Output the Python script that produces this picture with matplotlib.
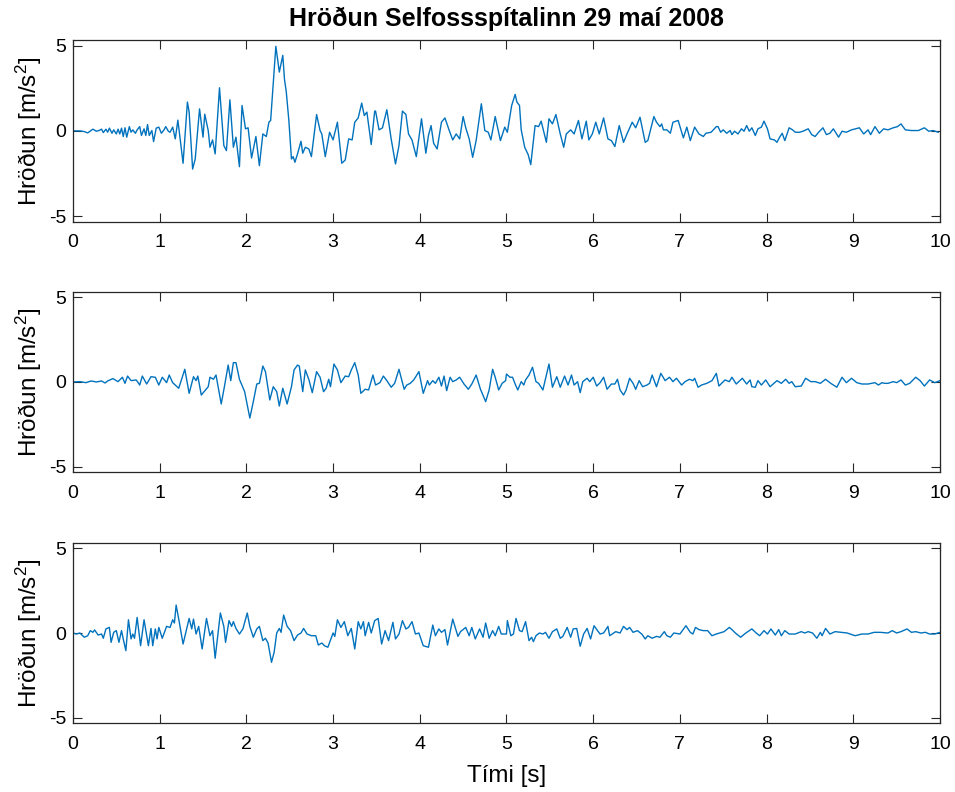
import matplotlib
matplotlib.use("Agg")
import matplotlib.pyplot as plt

# Acceleration records, Selfoss hospital, 29 May 2008 (time in s, acceleration in m/s^2)
t_top = [0.00, 0.08, 0.13, 0.17, 0.23, 0.27, 0.30, 0.33, 0.35, 0.38, 0.40, 0.42, 0.45, 0.47, 0.50,
         0.52, 0.54, 0.56, 0.58, 0.60, 0.62, 0.65, 0.67, 0.69, 0.72, 0.74, 0.77, 0.79, 0.82, 0.84,
         0.86, 0.88, 0.91, 0.93, 0.96, 0.99, 1.02, 1.05, 1.07, 1.10, 1.12, 1.15, 1.18, 1.21, 1.27,
         1.32, 1.34, 1.38, 1.41, 1.46, 1.50, 1.52, 1.56, 1.58, 1.61, 1.64, 1.69, 1.74, 1.77, 1.81,
         1.85, 1.88, 1.92, 1.95, 1.99, 2.02, 2.06, 2.11, 2.15, 2.19, 2.23, 2.26, 2.28, 2.34, 2.38,
         2.42, 2.44, 2.46, 2.49, 2.52, 2.54, 2.56, 2.59, 2.63, 2.65, 2.68, 2.72, 2.75, 2.81, 2.85,
         2.87, 2.91, 2.96, 3.00, 3.05, 3.10, 3.14, 3.18, 3.22, 3.25, 3.29, 3.33, 3.36, 3.39, 3.44,
         3.48, 3.49, 3.53, 3.57, 3.62, 3.67, 3.72, 3.76, 3.80, 3.84, 3.87, 3.91, 3.96, 4.02, 4.07,
         4.10, 4.13, 4.16, 4.20, 4.25, 4.29, 4.34, 4.38, 4.42, 4.46, 4.50, 4.53, 4.57, 4.61, 4.65,
         4.71, 4.75, 4.79, 4.82, 4.87, 4.90, 4.93, 4.98, 5.01, 5.06, 5.10, 5.12, 5.15, 5.17, 5.21,
         5.25, 5.28, 5.33, 5.37, 5.40, 5.46, 5.49, 5.53, 5.57, 5.62, 5.66, 5.69, 5.74, 5.78, 5.83,
         5.87, 5.92, 5.95, 5.99, 6.03, 6.07, 6.12, 6.17, 6.21, 6.25, 6.30, 6.35, 6.39, 6.45, 6.49,
         6.54, 6.60, 6.63, 6.70, 6.73, 6.77, 6.79, 6.81, 6.85, 6.89, 6.92, 6.98, 7.04, 7.08, 7.12,
         7.17, 7.22, 7.27, 7.30, 7.36, 7.42, 7.44, 7.47, 7.50, 7.54, 7.58, 7.60, 7.63, 7.67, 7.71,
         7.74, 7.77, 7.80, 7.83, 7.87, 7.90, 7.94, 7.97, 8.01, 8.04, 8.09, 8.12, 8.15, 8.18, 8.21,
         8.26, 8.30, 8.33, 8.38, 8.42, 8.48, 8.52, 8.56, 8.60, 8.65, 8.69, 8.73, 8.77, 8.83, 8.87,
         8.92, 8.98, 9.07, 9.12, 9.17, 9.20, 9.25, 9.30, 9.35, 9.40, 9.46, 9.51, 9.55, 9.60, 9.67,
         9.75, 9.82, 9.87, 9.92, 9.98]
a_top = [0.00, 0.00, -0.04, -0.12, 0.10, -0.02, 0.02, 0.10, -0.10, 0.10, -0.08, 0.16, -0.14, 0.06, -0.18,
         0.10, -0.18, 0.16, -0.33, 0.18, -0.37, 0.25, -0.08, 0.06, -0.14, 0.06, 0.25, -0.27, 0.12, -0.27,
         0.37, -0.27, 0.02, -0.63, 0.16, 0.22, -0.14, 0.06, 0.25, -0.02, -0.08, 0.22, -0.47, 0.63, -1.90,
         1.69, 1.10, -2.24, -1.65, 1.29, -0.37, 0.98, 0.02, -0.96, -0.53, -1.35, 2.53, -0.86, -1.16, 1.82,
         -0.96, -0.37, -2.10, 1.49, 0.12, 0.18, -1.59, -0.33, -2.04, -0.18, -0.33, 0.51, 0.61, 4.96, 3.45,
         4.43, 3.00, 2.30, 0.61, -1.65, -1.51, -1.84, -1.35, -0.61, -1.31, -0.96, -1.06, -1.51, 0.96, 0.02,
         -0.18, -1.51, -0.08, -0.53, 0.51, -1.90, -1.71, -0.47, -0.53, 0.51, 0.76, 1.63, 0.90, 1.10, -0.80,
         1.16, 1.16, 0.06, 0.18, 1.24, -0.47, -1.94, -0.86, 1.16, 0.96, -0.18, -0.53, -1.51, 0.71, -1.31,
         -0.27, 0.31, -0.73, -1.06, 0.51, 0.76, 0.02, -0.53, -0.18, -0.47, 0.84, 0.18, -0.47, -1.55, -0.57,
         1.59, 0.02, -0.08, -0.53, 0.84, 0.12, -0.57, 0.22, -0.08, 1.49, 2.14, 1.69, 1.49, 0.06, -0.96,
         -1.39, -1.98, 0.31, 0.25, 0.57, -0.67, 0.71, 0.41, 0.96, -0.18, -0.96, -0.18, 0.06, -0.18, 0.61,
         -0.47, 0.57, -0.53, -0.18, 0.51, -0.18, 0.76, -0.47, -0.57, -0.92, 0.31, -0.67, -0.18, 0.51, 0.18,
         0.80, -0.67, -0.57, 0.84, 0.51, 0.25, 0.41, 0.06, 0.06, -0.14, 0.51, 0.61, -0.41, 0.22, -0.57,
         0.22, -0.18, -0.33, -0.14, -0.08, 0.25, 0.25, -0.08, 0.06, -0.14, 0.02, -0.22, -0.02, -0.18, 0.12,
         -0.02, 0.31, -0.02, 0.18, -0.27, 0.12, 0.22, 0.57, 0.12, -0.47, -0.53, -0.67, -0.37, -0.14, -0.57,
         0.18, 0.06, -0.08, -0.08, -0.02, 0.12, -0.22, -0.33, -0.08, 0.18, -0.22, -0.14, 0.12, -0.37, -0.02,
         -0.08, 0.06, 0.18, -0.18, 0.06, -0.22, 0.25, -0.14, 0.12, 0.06, 0.18, 0.25, 0.41, 0.06, 0.02,
         0.02, 0.18, -0.02, 0.02, -0.08]

t_mid = [0.00, 0.08, 0.15, 0.21, 0.27, 0.33, 0.37, 0.40, 0.46, 0.52, 0.57, 0.60, 0.63, 0.67, 0.73,
         0.77, 0.80, 0.85, 0.90, 0.95, 0.99, 1.03, 1.08, 1.11, 1.15, 1.22, 1.29, 1.34, 1.39, 1.42,
         1.44, 1.48, 1.53, 1.56, 1.58, 1.62, 1.65, 1.71, 1.75, 1.79, 1.82, 1.85, 1.88, 1.92, 1.98,
         2.04, 2.08, 2.12, 2.15, 2.19, 2.22, 2.27, 2.31, 2.35, 2.38, 2.42, 2.47, 2.52, 2.55, 2.59,
         2.61, 2.65, 2.68, 2.72, 2.76, 2.81, 2.85, 2.89, 2.92, 2.95, 2.97, 3.01, 3.05, 3.09, 3.14,
         3.18, 3.21, 3.25, 3.29, 3.32, 3.37, 3.41, 3.46, 3.49, 3.54, 3.58, 3.62, 3.67, 3.71, 3.76,
         3.82, 3.85, 3.89, 3.93, 3.99, 4.04, 4.09, 4.11, 4.15, 4.18, 4.22, 4.25, 4.28, 4.31, 4.35,
         4.38, 4.42, 4.46, 4.51, 4.56, 4.60, 4.65, 4.70, 4.76, 4.80, 4.84, 4.87, 4.91, 4.95, 4.99,
         5.00, 5.04, 5.07, 5.10, 5.13, 5.17, 5.20, 5.22, 5.26, 5.30, 5.34, 5.37, 5.42, 5.49, 5.53,
         5.58, 5.62, 5.67, 5.71, 5.75, 5.78, 5.82, 5.85, 5.88, 5.93, 5.96, 6.00, 6.04, 6.08, 6.12,
         6.16, 6.21, 6.25, 6.28, 6.31, 6.35, 6.38, 6.42, 6.46, 6.49, 6.53, 6.57, 6.62, 6.65, 6.68,
         6.73, 6.78, 6.83, 6.88, 6.92, 6.96, 7.02, 7.06, 7.11, 7.15, 7.17, 7.21, 7.25, 7.31, 7.37,
         7.42, 7.45, 7.52, 7.57, 7.60, 7.65, 7.72, 7.77, 7.81, 7.83, 7.87, 7.90, 7.94, 7.99, 8.04,
         8.12, 8.17, 8.22, 8.26, 8.29, 8.33, 8.40, 8.45, 8.51, 8.56, 8.62, 8.68, 8.74, 8.81, 8.87,
         8.92, 8.98, 9.04, 9.10, 9.17, 9.21, 9.25, 9.29, 9.33, 9.36, 9.40, 9.46, 9.50, 9.55, 9.60,
         9.65, 9.72, 9.77, 9.82, 9.88, 9.94, 10.00]
a_mid = [0.00, 0.02, -0.04, 0.06, 0.00, 0.06, -0.06, 0.06, 0.20, 0.02, 0.28, -0.08, 0.35, 0.08, 0.12,
         -0.18, 0.35, -0.12, 0.31, 0.28, -0.18, 0.28, -0.04, 0.41, -0.04, -0.37, 0.75, -0.67, 0.31, 0.08,
         0.35, -0.77, -0.47, -0.28, 0.28, 0.16, 0.41, -1.30, -0.18, 1.00, 0.08, 1.14, 1.14, 0.16, -0.57,
         -2.13, -1.16, -0.12, -0.08, 0.94, 0.61, -1.06, -0.28, -0.57, -1.42, -0.37, -1.30, -0.28, 0.71, 1.00,
         0.94, -0.57, 0.71, 0.16, -0.63, 0.61, 0.28, -0.57, -0.37, 0.16, -0.28, 1.06, 0.71, -0.04, 0.35,
         0.31, 0.71, 1.14, 0.41, -0.67, -0.43, -0.47, 0.41, -0.18, -0.04, 0.35, 0.08, -0.31, -0.08, 0.75,
         -0.43, -0.18, -0.08, 0.12, 0.61, -0.67, 0.08, -0.18, 0.08, -0.08, 0.28, -0.24, 0.35, -0.51, 0.28,
         0.02, 0.12, 0.28, -0.12, -0.43, -0.12, 0.41, -0.43, -1.16, -0.47, 0.75, 0.28, -0.47, -0.08, 0.08,
         0.47, 0.28, 0.28, -0.12, -0.47, 0.02, -0.18, 0.12, 0.41, 0.87, 0.02, -0.08, -0.47, 1.06, -0.31,
         0.31, -0.31, 0.35, -0.18, 0.41, -0.18, 0.02, -0.63, 0.02, 0.22, 0.02, 0.28, -0.24, -0.04, 0.28,
         -0.43, -0.12, -0.12, 0.16, -0.47, -0.77, -0.47, 0.22, -0.08, -0.43, 0.08, -0.28, -0.18, -0.08, 0.41,
         -0.28, 0.51, 0.08, 0.28, 0.02, 0.22, -0.18, 0.02, 0.16, 0.08, 0.22, -0.31, -0.18, -0.08, 0.08,
         0.51, -0.24, 0.12, 0.02, 0.28, -0.12, 0.22, -0.12, 0.12, -0.28, -0.31, 0.08, -0.18, 0.12, -0.28,
         0.08, -0.08, 0.16, -0.08, 0.02, -0.28, -0.24, 0.22, 0.02, 0.02, -0.08, 0.16, -0.08, -0.31, 0.28,
         -0.04, 0.22, -0.04, -0.12, -0.12, -0.08, -0.04, -0.18, -0.04, -0.08, -0.08, 0.02, -0.04, 0.12, -0.18,
         -0.08, 0.28, 0.08, -0.24, 0.12, -0.04, 0.08]

t_bot = [0.00, 0.04, 0.08, 0.13, 0.17, 0.20, 0.23, 0.25, 0.29, 0.33, 0.35, 0.38, 0.42, 0.44, 0.47,
         0.50, 0.53, 0.56, 0.58, 0.61, 0.64, 0.67, 0.69, 0.71, 0.74, 0.78, 0.82, 0.87, 0.90, 0.92,
         0.95, 0.97, 0.99, 1.03, 1.08, 1.12, 1.15, 1.17, 1.19, 1.22, 1.27, 1.30, 1.34, 1.37, 1.39,
         1.42, 1.45, 1.49, 1.54, 1.58, 1.61, 1.64, 1.70, 1.74, 1.76, 1.80, 1.83, 1.85, 1.88, 1.92,
         1.96, 2.01, 2.04, 2.08, 2.12, 2.15, 2.19, 2.22, 2.25, 2.29, 2.32, 2.35, 2.38, 2.40, 2.43,
         2.47, 2.51, 2.55, 2.59, 2.63, 2.66, 2.70, 2.75, 2.80, 2.83, 2.87, 2.90, 2.94, 3.00, 3.02,
         3.05, 3.09, 3.13, 3.17, 3.21, 3.25, 3.29, 3.32, 3.35, 3.37, 3.41, 3.44, 3.48, 3.52, 3.56,
         3.60, 3.64, 3.69, 3.72, 3.76, 3.80, 3.84, 3.87, 3.91, 3.95, 3.99, 4.04, 4.10, 4.15, 4.18,
         4.22, 4.25, 4.29, 4.32, 4.38, 4.44, 4.47, 4.53, 4.57, 4.60, 4.64, 4.69, 4.73, 4.76, 4.80,
         4.84, 4.87, 4.91, 4.94, 5.00, 5.01, 5.05, 5.08, 5.11, 5.15, 5.18, 5.22, 5.26, 5.29, 5.31,
         5.34, 5.38, 5.42, 5.45, 5.49, 5.53, 5.58, 5.62, 5.65, 5.70, 5.74, 5.77, 5.81, 5.85, 5.89,
         5.93, 5.97, 6.01, 6.05, 6.08, 6.12, 6.17, 6.19, 6.26, 6.31, 6.35, 6.39, 6.42, 6.46, 6.51,
         6.56, 6.60, 6.63, 6.68, 6.73, 6.77, 6.82, 6.85, 6.89, 6.93, 7.00, 7.07, 7.12, 7.15, 7.18,
         7.22, 7.27, 7.32, 7.37, 7.42, 7.51, 7.57, 7.60, 7.64, 7.70, 7.76, 7.83, 7.88, 7.92, 7.97,
         8.01, 8.05, 8.10, 8.14, 8.17, 8.21, 8.26, 8.33, 8.40, 8.44, 8.48, 8.53, 8.58, 8.62, 8.64,
         8.68, 8.73, 8.79, 8.86, 8.93, 9.02, 9.10, 9.17, 9.24, 9.31, 9.40, 9.45, 9.50, 9.55, 9.62,
         9.67, 9.72, 9.78, 9.83, 9.88, 9.94, 10.00]
a_bot = [0.00, -0.06, 0.00, -0.25, -0.16, 0.14, 0.04, 0.18, -0.12, -0.06, -0.31, 0.24, 0.33, -0.55, 0.04,
         0.14, -0.55, 0.14, -0.35, -1.04, 0.78, -0.35, -0.06, -0.31, 0.92, -0.75, 0.78, -0.75, 0.27, -0.75,
         0.24, -0.35, 0.33, -0.31, 0.39, 0.33, 0.78, 0.59, 1.65, 0.82, -0.65, 0.00, 0.86, 0.24, 0.82,
         -0.06, 0.39, -0.94, 0.86, -0.16, 0.14, -1.49, 1.18, 0.39, -0.55, 0.73, 0.39, 0.67, 0.27, -0.06,
         0.24, 1.18, 0.39, -0.25, 0.24, 0.39, -0.45, -0.31, -0.59, -1.73, -1.14, 0.00, 0.27, 0.04, 1.06,
         0.39, 0.14, -0.45, -0.12, 0.00, 0.27, -0.06, -0.16, -0.16, -0.71, -0.59, -0.75, -0.84, 0.00, -0.20,
         0.78, 0.33, 0.67, -0.16, 0.27, -0.94, 0.67, 0.24, 0.67, -0.16, 0.63, 0.00, 0.73, 0.86, -0.65,
         0.14, -0.45, 0.63, -0.35, -0.06, 0.73, 0.24, 0.33, 0.67, -0.06, 0.00, -0.75, -0.84, 0.47, -0.16,
         0.24, 0.04, 0.20, -0.71, 0.82, -0.20, 0.08, 0.33, -0.16, 0.33, -0.35, 0.24, -0.25, 0.59, -0.31,
         0.14, -0.16, 0.39, -0.06, -0.06, 0.73, -0.16, -0.06, 0.86, 0.14, 0.08, 0.67, -0.45, -0.25, -0.51,
         -0.16, 0.00, -0.06, 0.04, -0.31, 0.08, 0.24, -0.31, -0.20, 0.33, -0.25, 0.24, 0.27, -0.78, -0.06,
         0.27, -0.35, 0.43, 0.14, -0.06, 0.00, 0.39, -0.16, 0.08, 0.00, 0.39, 0.20, 0.33, 0.04, 0.14,
         -0.06, -0.35, -0.16, -0.31, -0.20, -0.25, 0.08, -0.16, -0.25, 0.00, -0.06, 0.43, 0.04, -0.06, 0.33,
         0.20, 0.14, 0.14, -0.16, -0.06, 0.08, 0.33, 0.20, 0.00, -0.25, 0.00, 0.24, 0.00, -0.16, 0.14,
         -0.06, 0.24, -0.12, 0.20, -0.16, 0.14, -0.06, -0.06, 0.08, 0.00, 0.08, 0.00, -0.31, 0.04, -0.16,
         0.27, -0.06, 0.08, 0.04, 0.00, -0.16, -0.06, -0.06, 0.04, 0.04, 0.00, 0.14, 0.00, 0.08, 0.24,
         0.04, 0.08, 0.00, 0.04, -0.06, -0.06, 0.04]

title_text = "Hröðun Selfossspítalinn 29 maí 2008"
ylabel_text = r"Hröðun [m/s$^2$]"
xlabel_text = "Tími [s]"
x_ticks = list(range(0, 11))
y_ticks = [-5, 0, 5]

plt.rcParams["font.family"] = ["Liberation Sans", "DejaVu Sans"]
plt.rcParams["mathtext.fontset"] = "custom"
plt.rcParams["mathtext.rm"] = "Liberation Sans"
plt.rcParams["mathtext.it"] = "Liberation Sans"
plt.rcParams["axes.unicode_minus"] = False

axis_col = "#262626"
line_col = "#0072BD"

fig = plt.figure(figsize=(9.55, 7.92), dpi=100)
boxes = [
    [0.0764, 0.7200, 0.9079, 0.2295],
    [0.0764, 0.4037, 0.9079, 0.2280],
    [0.0764, 0.0867, 0.9079, 0.2281],
]
series = [(t_top, a_top), (t_mid, a_mid), (t_bot, a_bot)]

axes = []
for box, (t, a) in zip(boxes, series):
    ax = fig.add_axes(box)
    ax.plot(t, a, color=line_col, lw=1.0)
    ax.set_xlim(0, 10)
    ax.set_ylim(-5.33, 5.33)
    ax.set_xticks(x_ticks)
    ax.set_yticks(y_ticks)
    ax.tick_params(direction="in", length=6.5, width=0.8, colors=axis_col,
                   labelsize=14, top=True, right=True)
    ax.tick_params(axis="x", pad=9)
    ax.tick_params(axis="y", pad=5)
    for tl in ax.get_xticklabels() + ax.get_yticklabels():
        tl.set_color("black")
    for sp in ax.spines.values():
        sp.set_color(axis_col)
        sp.set_linewidth(0.9)
    ax.set_ylabel(ylabel_text, fontsize=17.5, labelpad=3)
    axes.append(ax)

axes[0].set_title(title_text, fontsize=18, fontweight="bold", pad=10)
axes[2].set_xlabel(xlabel_text, fontsize=17.5, labelpad=9)

fig.savefig("out.png", dpi=100)
